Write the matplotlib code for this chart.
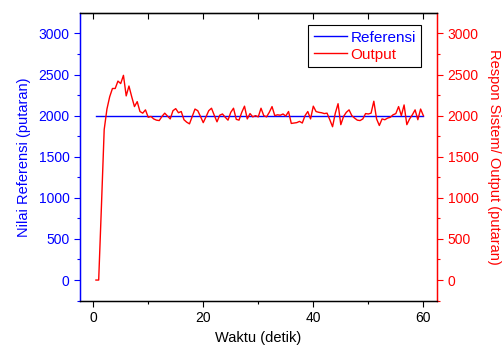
import matplotlib
matplotlib.use("Agg")
import matplotlib.pyplot as plt
from matplotlib.ticker import MultipleLocator

plt.rcParams['font.family'] = ['Liberation Sans', 'DejaVu Sans']

time_s = [i * 0.5 for i in range(1, 121)]
referensi = [2000] * 120
output = [
    0, 0, 900, 1830, 2080, 2230, 2330, 2330, 2420, 2390,
    2490, 2240, 2360, 2230, 2110, 2170, 2050, 2030, 2070, 1980,
    1990, 1960, 1945, 1940, 1990, 2030, 1995, 1960, 2060, 2085,
    2035, 2050, 1950, 1920, 1900, 1990, 2080, 2060, 1990, 1915,
    1985, 2060, 2090, 2005, 1925, 2005, 2020, 1980, 1945, 2040,
    2090, 1955, 1945, 2040, 2115, 1960, 2025, 1985, 2000, 1985,
    2090, 2000, 1985, 2040, 2110, 2000, 2010, 2005, 2020, 1995,
    2050, 1905, 1910, 1915, 1930, 1910, 2000, 2050, 1960, 2115,
    2050, 2040, 2035, 2025, 2030, 1950, 1865, 2030, 2145, 1890,
    1990, 2040, 2070, 2000, 1970, 1945, 1940, 1960, 2025, 2020,
    2030, 2175, 1960, 1880, 1960, 1950, 1970, 1980, 2010, 2025,
    2110, 2000, 2130, 1890, 1960, 2010, 2070, 1950, 2080, 2000,
]

x_ticks = [0, 20, 40, 60]
y_ticks = [0, 500, 1000, 1500, 2000, 2500, 3000]

fig = plt.figure(figsize=(5.03, 3.45), dpi=100)
ax = fig.add_axes([0.159, 0.1275, 0.710, 0.8345])
ax2 = ax.twinx()

l1, = ax.plot(time_s, referensi, color='#0000ff', lw=1.0, label='Referensi')
l2, = ax2.plot(time_s, output, color='#ff0000', lw=1.0, label='Output')

for a in (ax, ax2):
    a.set_xlim(-2.4, 62.5)
    a.set_ylim(-255, 3247)

ax.set_xticks(x_ticks)
ax.xaxis.set_minor_locator(MultipleLocator(10))
ax.set_yticks(y_ticks)
ax.yaxis.set_minor_locator(MultipleLocator(250))
ax2.set_yticks(y_ticks)
ax2.yaxis.set_minor_locator(MultipleLocator(250))

ax.tick_params(axis='x', which='major', direction='out', length=4, width=0.8,
               labelsize=10, colors='black', top=False)
ax.tick_params(axis='x', which='minor', direction='out', length=2.5, width=0.8, top=False)
axt = ax.secondary_xaxis('top')
axt.set_xticks([0, 10, 20, 30, 40, 50, 60])
axt.tick_params(direction='in', length=4, width=0.8, labeltop=False)
axt.set_xticklabels([])

ax.tick_params(axis='y', which='major', direction='out', length=4, width=0.8,
               labelsize=10, colors='#0000ff')
ax.tick_params(axis='y', which='minor', direction='out', length=2.5, width=0.8,
               colors='#0000ff')
ax2.tick_params(axis='y', which='major', direction='out', length=4, width=0.8,
                labelsize=10, colors='#ff0000')
ax2.tick_params(axis='y', which='minor', direction='out', length=2.5, width=0.8,
                colors='#ff0000')

ax.spines['left'].set_color('#0000ff')
ax2.spines['left'].set_color('#0000ff')
ax2.spines['right'].set_color('#ff0000')
ax.spines['right'].set_color('#ff0000')
for s in ax2.spines.values():
    s.set_linewidth(1.0)

ax.set_xlabel('Waktu (detik)', fontsize=10.5, labelpad=4)
ax.set_ylabel('Nilai Referensi (putaran)', fontsize=10.5, color='#0000ff', labelpad=5)
ax2.set_ylabel('Respon Sistem/ Output (putaran)', fontsize=10.5, color='#ff0000',
               rotation=270, labelpad=16)

leg = ax2.legend(handles=[l1, l2], loc='upper right', bbox_to_anchor=(0.955, 0.958),
                 fontsize=11, frameon=True, fancybox=False, edgecolor='black',
                 framealpha=1, shadow=False, handlelength=2.2, borderaxespad=0,
                 borderpad=0.35, labelspacing=0.2, handletextpad=0.2)
leg.get_frame().set_linewidth(0.8)
for txt, c in zip(leg.get_texts(), ['#0000ff', '#ff0000']):
    txt.set_color(c)

fig.savefig('out.png', dpi=100)
